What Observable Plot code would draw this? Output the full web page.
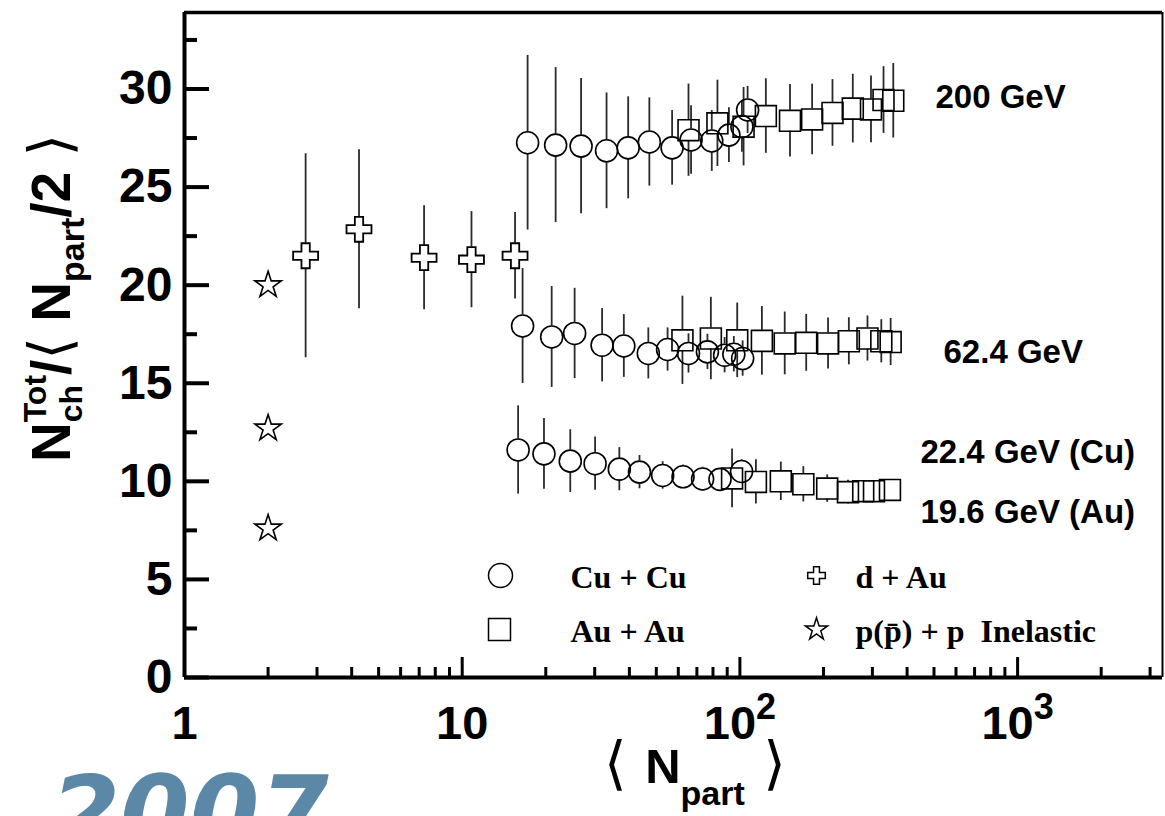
<!DOCTYPE html>
<html><head><meta charset="utf-8">
<script src="https://cdn.jsdelivr.net/npm/d3@7"></script>
<script src="https://cdn.jsdelivr.net/npm/@observablehq/plot@0.6"></script>
<style>html,body{margin:0;padding:0;background:#fff;overflow:hidden}</style>
</head><body><div id="chart"></div>
<script>
// ---------- data ----------
// Cu+Cu 200 GeV
const cuCu200N = [17.2, 21.7, 26.8, 33.1, 39.6, 47.2, 57.0, 66.7, 79.2, 91.3, 101.7, 106.6];
const cuCu200V = [27.26, 27.14, 27.09, 26.85, 27.0, 27.3, 27.0, 27.4, 27.35, 27.65, 28.08, 28.93];
const cuCu200E = [4.45, 3.95, 3.45, 2.95, 2.6, 2.25, 1.9, 1.75, 1.55, 1.4, 1.3, 1.2];
// Au+Au 200 GeV
const auAu200N = [65.3, 83.0, 103.1, 124, 151.5, 182, 215.5, 255, 296.5, 329, 356.7];
const auAu200V = [27.9, 28.25, 28.08, 28.62, 28.38, 28.45, 28.78, 29.0, 28.96, 29.44, 29.4];
const auAu200E = [2.35, 2.2, 2.0, 1.9, 1.85, 1.8, 1.7, 1.75, 1.7, 1.7, 1.9];
// Cu+Cu 62.4 GeV
const cuCu62N = [16.5, 21.0, 25.4, 31.9, 38.2, 46.8, 54.9, 65.3, 76.4, 88.1, 95.1, 102.3];
const cuCu62V = [17.92, 17.36, 17.54, 16.94, 16.9, 16.52, 16.72, 16.52, 16.6, 16.43, 16.48, 16.26];
const cuCu62E = [2.93, 2.57, 2.3, 1.87, 1.6, 1.3, 1.1, 1.0, 0.9, 0.9, 0.9, 0.9];
// Au+Au 62.4 GeV
const auAu62N = [62.1, 78.6, 97.8, 120, 145, 173.3, 207.7, 246.8, 288, 323, 349];
const auAu62V = [17.19, 17.28, 17.19, 17.16, 17.03, 17.06, 17.03, 17.14, 17.28, 17.14, 17.1];
const auAu62E = [2.25, 2.1, 1.9, 1.75, 1.6, 1.45, 1.3, 1.2, 1.15, 1.1, 1.2];
// Cu+Cu 22.4 GeV
const cuCu22N = [15.9, 19.7, 24.5, 30.1, 36.8, 43.5, 52.7, 62.4, 73.4, 84.8, 101.4];
const cuCu22V = [11.6, 11.4, 11.03, 10.9, 10.62, 10.47, 10.3, 10.23, 10.12, 10.1, 10.5];
const cuCu22E = [2.25, 1.8, 1.6, 1.36, 1.1, 0.85, 0.7, 0.6, 0.6, 0.55, 0.6];
// Au+Au 19.6 GeV
const auAu19N = [93.7, 114.2, 140.4, 169.2, 206.2, 245, 278, 304, 347];
const auAu19V = [10.15, 9.97, 10.0, 9.85, 9.63, 9.45, 9.5, 9.5, 9.56];
const auAu19E = [1.5, 1.13, 0.98, 0.9, 0.7, 0.6, 0.55, 0.5, 0.5];
// d+Au 200 GeV
const dAuN = [2.73, 4.25, 7.29, 10.8, 15.5];
const dAuV = [21.5, 22.85, 21.4, 21.3, 21.5];
const dAuE = [5.2, 4.05, 2.65, 2.45, 2.2];
// p(pbar)+p inelastic (200, 62.4, 19.6 GeV)
const ppN = [2, 2, 2];
const ppV = [20.0, 12.7, 7.6];

// labels
const energyLabels = ["200 GeV", "62.4 GeV", "22.4 GeV (Cu)", "19.6 GeV (Au)"];
const energyLabelN = [506, 541, 447, 447];
const energyLabelV = [29.55, 16.58, 11.48, 8.42];
const legendLabels = ["Cu + Cu", "Au + Au", "d + Au", "p(p\u0304) + p\u00a0 Inelastic"];
const yMajor = [0, 5, 10, 15, 20, 25, 30];
const yMinor = [2.5, 7.5, 12.5, 17.5, 22.5, 27.5, 32.5];
const xMajor = [1, 10, 100, 1000];
const xMinor = [2,3,4,5,6,7,8,9,20,30,40,50,60,70,80,90,200,300,400,500,600,700,800,900,2000,3000];
const xTickText = ["1", "10", "10^2", "10^3"];

// ---------- layout ----------
const W = 1165, H = 816, mL = 184, mR = 3, mT = 12, mB = 139;
const xDomain = [1, 3325], yDomain = [0, 33.9];
const frameW = W - mL - mR, frameH = H - mT - mB;
const ppu = frameH / (yDomain[1] - yDomain[0]);
const barColor = "#2a2a2a";

const rows = (N, V, E) => N.map((n, i) => ({N: n, v: V[i], e: E ? E[i] : 0}));
const circles = [...rows(cuCu200N, cuCu200V, cuCu200E), ...rows(cuCu62N, cuCu62V, cuCu62E), ...rows(cuCu22N, cuCu22V, cuCu22E)];
const squares = [...rows(auAu200N, auAu200V, auAu200E), ...rows(auAu62N, auAu62V, auAu62E), ...rows(auAu19N, auAu19V, auAu19E)];
const crosses = rows(dAuN, dAuV, dAuE);
const stars = rows(ppN, ppV, null);

const R_CIRCLE = 11, R_SQUARE = 11.8, R_CROSS = 10.5, R_STAR = 8.3;
const GAP_CIRCLE = 11, GAP_SQUARE = 10.5, GAP_CROSS = 12.5;

function errBars(data, gap) {
  const d = data.filter(r => r.e * ppu > gap + 0.5);
  return [
    Plot.ruleX(d, {x: "N", y1: r => r.v + r.e, y2: "v", insetBottom: gap, stroke: barColor, strokeWidth: 1.8}),
    Plot.ruleX(d, {x: "N", y1: "v", y2: r => r.v - r.e, insetTop: gap, stroke: barColor, strokeWidth: 1.8})
  ];
}

const legendSym = ["circle", "square", "cross", "star"];
const legendR = [12, 12.4, 7.4, 7];
const legendDx = [316, 315, 632, 632];
const legendDy = [563, 617, 563, 617];
const legendTextDx = [386, 386, 671, 671];
const legendTextDy = [565, 619, 565, 619];

const legendMarks = [];
legendSym.forEach((s, i) => {
  legendMarks.push(Plot.dot([0], {frameAnchor: "top-left", dx: legendDx[i], dy: legendDy[i], symbol: s, r: legendR[i], stroke: "black", fill: "none", strokeWidth: 1.5}));
  legendMarks.push(Plot.text([legendLabels[i]], {frameAnchor: "top-left", dx: legendTextDx[i], dy: legendTextDy[i], text: d => d, textAnchor: "start", lineAnchor: "middle", fontFamily: "Liberation Serif, Times New Roman, serif", fontWeight: "bold", fontSize: 32, fill: "black"}));
});

const chart = Plot.plot({
  width: W, height: H,
  marginLeft: mL, marginRight: mR, marginTop: mT, marginBottom: mB,
  style: {fontFamily: "Liberation Sans, Arial, sans-serif", background: "white", color: "black"},
  x: {type: "log", domain: xDomain, label: null},
  y: {domain: yDomain, label: null},
  marks: [
    // ticks (inward)
    Plot.tickY(yMajor, {y: d => d, insetRight: frameW - 25, stroke: "black", strokeWidth: 4}),
    Plot.tickY(yMinor, {y: d => d, insetRight: frameW - 13, stroke: "black", strokeWidth: 4}),
    Plot.tickX(xMajor, {x: d => d, insetTop: frameH - 20, stroke: "black", strokeWidth: 3}),
    Plot.tickX(xMinor, {x: d => d, insetTop: frameH - 10, stroke: "black", strokeWidth: 3}),
    // frame
    Plot.ruleX([xDomain[0]], {stroke: "black", strokeWidth: 4}),
    Plot.ruleY([yDomain[0]], {stroke: "black", strokeWidth: 4}),
    Plot.ruleY([yDomain[1]], {stroke: "black", strokeWidth: 3.5}),
    Plot.ruleX([xDomain[1]], {stroke: "black", strokeWidth: 2}),
    // axes labels
    Plot.axisY(yMajor, {tickSize: 0, tickPadding: 12, fontSize: 48, fontWeight: "bold", label: null, tickFormat: d => String(d)}),
    Plot.axisX(xMajor, {tickSize: 0, tickPadding: 28, fontSize: 47, fontWeight: "bold", label: null, tickFormat: (d, i) => xTickText[xMajor.indexOf(d)]}),
    // error bars
    ...errBars(circles, GAP_CIRCLE),
    ...errBars(squares, GAP_SQUARE),
    ...errBars(crosses, GAP_CROSS),
    // markers
    Plot.dot(circles, {x: "N", y: "v", r: R_CIRCLE, stroke: "black", fill: "none", strokeWidth: 1.6}),
    Plot.dot(squares, {x: "N", y: "v", symbol: "square", r: R_SQUARE, stroke: "black", fill: "none", strokeWidth: 1.6}),
    Plot.dot(crosses, {x: "N", y: "v", symbol: "cross", r: R_CROSS, stroke: "black", fill: "white", strokeWidth: 1.8}),
    Plot.dot(stars, {x: "N", y: "v", symbol: "star", r: R_STAR, stroke: "black", fill: "none", strokeWidth: 1.6}),
    // energy labels
    Plot.text(energyLabels, {x: (d, i) => energyLabelN[i], y: (d, i) => energyLabelV[i], text: d => d, textAnchor: "start", lineAnchor: "middle", fontSize: 33, fontWeight: "bold", fill: "black"}),
    // legend
    ...legendMarks,
    // watermark
    Plot.text(["2007"], {frameAnchor: "bottom-left", dx: -134, dy: 98, text: d => d, textAnchor: "start", lineAnchor: "top", fontSize: 100, fontStyle: "italic", fontWeight: "bold", fontFamily: "DejaVu Sans, sans-serif", fill: "#5b88a6"})
  ]
});
document.getElementById("chart").appendChild(chart);

// ---------- post-processing of rich text ----------
const svg = d3.select(chart);
svg.selectAll('g[aria-label="x-axis tick label"] text').each(function () {
  const t = this.textContent;
  if (t.includes("^")) {
    const [b, e] = t.split("^");
    this.textContent = "";
    const s = d3.select(this);
    s.append("tspan").text(b);
    s.append("tspan").attr("dy", -20).attr("font-size", 36).text(e);
  }
});

const BR = "DejaVu Sans, sans-serif";
// y title: N_ch^Tot / < N_part / 2 >
(function () {
  const t = svg.append("text").attr("transform", "translate(70,298) rotate(-90)").attr("text-anchor", "middle")
    .attr("font-family", "Liberation Sans, Arial, sans-serif").attr("font-weight", "bold").attr("fill", "black");
  t.append("tspan").attr("font-size", 55).text("N");
  const tot = t.append("tspan").attr("font-size", 32).attr("dy", -24).text("Tot");
  const totLen = tot.node().getComputedTextLength();
  const ch = t.append("tspan").attr("font-size", 32).attr("dy", 36).attr("dx", -totLen).text("ch");
  const chLen = ch.node().getComputedTextLength();
  t.append("tspan").attr("font-size", 55).attr("dy", -12).attr("dx", Math.max(0, totLen - chLen)).text("/");
  t.append("tspan").attr("font-size", 58).attr("font-family", BR).attr("font-weight", "normal").text("\u27e8");
  t.append("tspan").attr("font-size", 55).text("\u00a0N");
  t.append("tspan").attr("font-size", 34).attr("dy", 14).text("part");
  t.append("tspan").attr("font-size", 55).attr("dy", -14).text("/2\u00a0");
  t.append("tspan").attr("font-size", 58).attr("font-family", BR).attr("font-weight", "normal").text("\u27e9");
})();

// x title: < N_part >
(function () {
  const t = svg.append("text").attr("transform", "translate(695,783)").attr("text-anchor", "middle")
    .attr("font-family", "Liberation Sans, Arial, sans-serif").attr("font-weight", "bold").attr("fill", "black");
  t.append("tspan").attr("font-size", 58).attr("font-family", BR).attr("font-weight", "normal").text("\u27e8\u00a0");
  t.append("tspan").attr("font-size", 49).text("N");
  t.append("tspan").attr("font-size", 34).attr("dy", 22).text("part");
  t.append("tspan").attr("font-size", 58).attr("dy", -22).attr("font-family", BR).attr("font-weight", "normal").text("\u00a0\u27e9");
})();
</script>
</body></html>
